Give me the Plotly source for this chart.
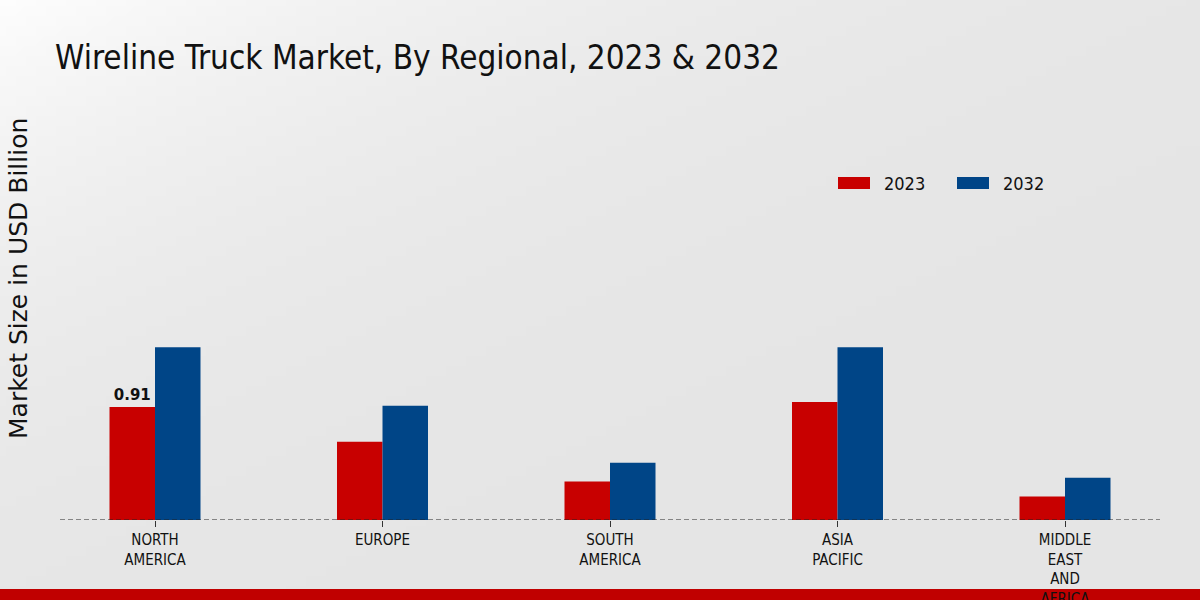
import base64
import struct
import zlib

import plotly.graph_objects as go

categories = ["NORTH<br>AMERICA", "EUROPE", "SOUTH<br>AMERICA", "ASIA<br>PACIFIC", "MIDDLE<br>EAST<br>AND<br>AFRICA"]
series_names = ["2023", "2032"]
values_2023 = [0.91, 0.63, 0.31, 0.95, 0.19]
values_2032 = [1.39, 0.92, 0.46, 1.39, 0.34]
colors = ["#c80000", "#004587"]
label_text = ["<b>0.91</b>", "", "", "", ""]


def gradient_png(w=120, h=60):
    rows = b""
    for j in range(h):
        row = b"\x00"
        for i in range(w):
            t = i / (w - 1) + j / (h - 1)
            v = int(round(229 + 24 * max(0.0, 1 - t / 2) ** 4))
            row += bytes([v, v, v])
        rows += row

    def chunk(tag, data):
        c = tag + data
        return struct.pack(">I", len(data)) + c + struct.pack(">I", zlib.crc32(c) & 0xFFFFFFFF)

    png = b"\x89PNG\r\n\x1a\n"
    png += chunk(b"IHDR", struct.pack(">IIBBBBB", w, h, 8, 2, 0, 0, 0))
    png += chunk(b"IDAT", zlib.compress(rows, 9))
    png += chunk(b"IEND", b"")
    return "data:image/png;base64," + base64.b64encode(png).decode()


fig = go.Figure()
fig.add_trace(go.Bar(x=categories, y=values_2023, name=series_names[0], marker_color=colors[0],
                     marker_line_width=0, text=label_text, textposition="outside",
                     textfont=dict(family="DejaVu Sans", size=15, color="#111"),
                     cliponaxis=False))
fig.add_trace(go.Bar(x=categories, y=values_2032, name=series_names[1], marker_color=colors[1],
                     marker_line_width=0))

# background gradient
fig.add_layout_image(source=gradient_png(), xref="paper", yref="paper",
                     x=-60 / 1100, y=520 / 420, sizex=1200 / 1100, sizey=600 / 420,
                     xanchor="left", yanchor="top", sizing="stretch", layer="below")

# dashed baseline
fig.add_shape(type="line", xref="paper", yref="y", x0=0, x1=1, y0=0, y1=0,
              line=dict(color="#222", width=1, dash="5px,3px"), layer="above")
# red bottom strip
fig.add_shape(type="rect", xref="paper", yref="paper", x0=-0.06, x1=1.04,
              y0=(520 - 601) / 420, y1=(520 - 589) / 420, fillcolor="#c00000",
              line_width=0, layer="below")

# custom legend
legend_x = [838, 957]
for i, nm in enumerate(series_names):
    x0 = legend_x[i]
    fig.add_shape(type="rect", xref="paper", yref="paper",
                  x0=(x0 - 60) / 1100, x1=(x0 + 32 - 60) / 1100,
                  y0=(520 - 189) / 420, y1=(520 - 177) / 420,
                  fillcolor=colors[i], line_width=0)
    fig.add_annotation(xref="paper", yref="paper", x=(x0 + 44 - 60) / 1100, y=(520 - 183) / 420,
                       text=nm, showarrow=False, xanchor="left", yanchor="middle",
                       font=dict(family="DejaVu Sans Condensed", size=18, color="#111"))

# y-axis title
fig.add_annotation(xref="paper", yref="paper", x=(18 - 60) / 1100, y=(520 - 279) / 420,
                   text="Market Size in USD Billion", textangle=-90, showarrow=False,
                   xanchor="center", yanchor="middle",
                   font=dict(family="DejaVu Sans", size=25, color="#111"))

fig.update_layout(
    width=1200, height=600,
    margin=dict(l=60, r=40, t=100, b=80, autoexpand=False),
    paper_bgcolor="#e7e7e7", plot_bgcolor="rgba(0,0,0,0)",
    barmode="group", bargap=0.6, bargroupgap=0,
    showlegend=False,
    title=dict(text="Wireline Truck Market, By Regional, 2023 & 2032",
               x=55 / 1200, xanchor="left", y=1 - 57 / 600, yanchor="middle",
               font=dict(family="DejaVu Sans Condensed", size=33, color="#111")),
    xaxis=dict(range=[-0.4176, 4.4176], showgrid=False, zeroline=False, showline=False,
               automargin=False,
               ticks="outside", ticklen=6, tickcolor="#333", tickwidth=1,
               tickfont=dict(family="DejaVu Sans Condensed", size=15, color="#111")),
    yaxis=dict(range=[0, 420 / 124.2], showgrid=False, zeroline=False, showline=False,
               automargin=False, showticklabels=False, ticks=""),
    font=dict(family="DejaVu Sans Condensed"),
)

fig.write_html("out.html")
